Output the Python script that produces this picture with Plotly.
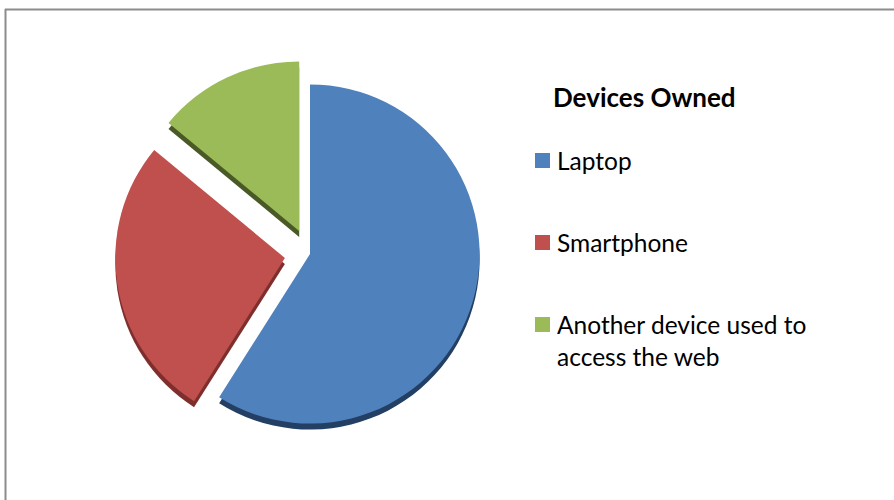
import plotly.graph_objects as go

# ---- data ----
labels = ["Laptop", "Smartphone", "Another device used to access the web"]
legend_text = ["Laptop", "Smartphone", "Another device used to<br>access the web"]
values = [59, 27, 14]
pulls = [0, 0.15, 0.15]
colors = ["#4F81BD", "#C0504D", "#9BBB59"]
depth_colors = ["#233F63", "#7E2F2D", "#4A5A26"]
legend_title = "Devices Owned"

W, H = 894, 500

# pie domain (px) -> paper
cx, cy, half = 310, 254, 195
depth = 6


def dom(cx, cy, half):
    return dict(x=[(cx - half) / W, (cx + half) / W],
                y=[1 - (cy + half) / H, 1 - (cy - half) / H])


fig = go.Figure()
# back copy giving the 3D side face
fig.add_trace(go.Pie(
    labels=labels, values=values, pull=pulls, sort=False,
    direction="clockwise", rotation=0,
    marker=dict(colors=depth_colors), textinfo="none",
    hoverinfo="skip", showlegend=False,
    domain=dom(cx, cy + depth, half),
))
fig.add_trace(go.Pie(
    labels=labels, values=values, pull=pulls, sort=False,
    direction="clockwise", rotation=0,
    marker=dict(colors=colors), textinfo="none",
    hoverinfo="label+percent", showlegend=False,
    domain=dom(cx, cy, half),
))

font_family = "Lato, Carlito, Calibri, sans-serif"
annotations = [dict(
    text="<b>" + legend_title + "</b>", x=551 / W, y=1 - 97 / H,
    xref="paper", yref="paper", xanchor="left", yanchor="middle",
    showarrow=False, font=dict(family=font_family, size=26, color="#000000"),
)]
shapes = []
top_y = 160
gap = 82
for i, (t, c) in enumerate(zip(legend_text, colors)):
    yc = top_y + i * gap
    annotations.append(dict(
        text=t, x=555 / W, y=1 - (yc - 16) / H,
        xref="paper", yref="paper", xanchor="left", yanchor="top",
        align="left", showarrow=False,
        font=dict(family=font_family, size=24.5, color="#000000"),
    ))
    shapes.append(dict(
        type="rect", xref="paper", yref="paper",
        x0=535 / W, x1=550 / W, y0=1 - (yc + 8) / H, y1=1 - (yc - 7) / H,
        fillcolor=c, line=dict(width=0),
    ))

# outer border (top and left visible)
shapes.append(dict(type="line", xref="paper", yref="paper",
                   x0=5 / W, x1=1.0, y0=1 - 9.5 / H, y1=1 - 9.5 / H,
                   line=dict(color="#8c8c8c", width=2)))
shapes.append(dict(type="line", xref="paper", yref="paper",
                   x0=5.5 / W, x1=5.5 / W, y0=0, y1=1 - 9 / H,
                   line=dict(color="#8c8c8c", width=2)))

fig.update_layout(
    width=W, height=H,
    margin=dict(l=0, r=0, t=0, b=0),
    paper_bgcolor="#ffffff", plot_bgcolor="#ffffff",
    annotations=annotations, shapes=shapes,
    showlegend=False,
)

fig.write_html("out.html")
